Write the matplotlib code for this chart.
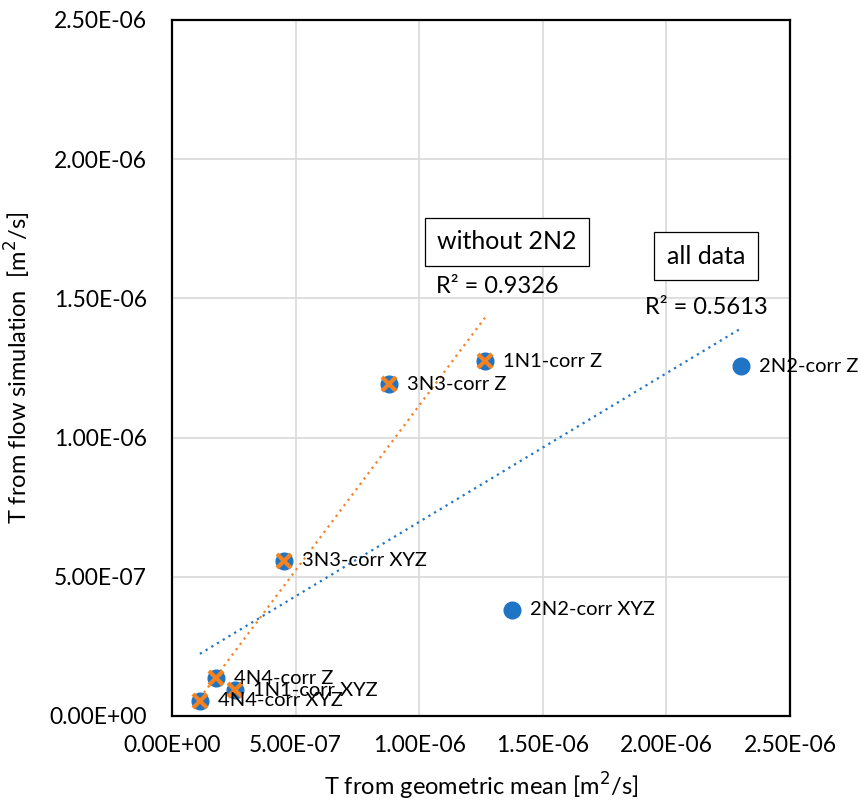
import numpy as np
import matplotlib
matplotlib.use("Agg")
import matplotlib.pyplot as plt

plt.rcParams['font.family'] = ['Lato', 'DejaVu Sans']

labels = ["4N4-corr XYZ", "4N4-corr Z", "1N1-corr XYZ", "3N3-corr XYZ",
          "3N3-corr Z", "1N1-corr Z", "2N2-corr Z", "2N2-corr XYZ"]
x_geo = [0.113e-6, 0.178e-6, 0.255e-6, 0.453e-6, 0.878e-6, 1.266e-6, 2.30e-6, 1.375e-6]
y_flow = [0.054e-6, 0.136e-6, 0.093e-6, 0.557e-6, 1.192e-6, 1.275e-6, 1.257e-6, 0.381e-6]
subset = [True, True, True, True, True, True, False, False]  # without 2N2

x_ticks = [0, 0.5e-6, 1.0e-6, 1.5e-6, 2.0e-6, 2.5e-6]
y_ticks = [0, 0.5e-6, 1.0e-6, 1.5e-6, 2.0e-6, 2.5e-6]
tick_labels = ["0.00E+00", "5.00E-07", "1.00E-06", "1.50E-06", "2.00E-06", "2.50E-06"]

blue = "#1f74c6"
orange = "#f5821f"

fig = plt.figure(figsize=(8.62, 8.06), dpi=100)
ax = fig.add_axes([0.1995, 0.1117, 0.7170, 0.8635])

xa = np.array(x_geo)
ya = np.array(y_flow)
m = np.array(subset)

# trendlines
p_all = np.polyfit(xa, ya, 1)
xs = np.array([xa.min(), xa.max()])
ax.plot(xs, np.polyval(p_all, xs), ls=(0, (1, 2)), color=blue, lw=1.6, zorder=2)
p_sub = np.polyfit(xa[m], ya[m], 1)
xs2 = np.array([xa[m].min(), xa[m].max()])
ax.plot(xs2, np.polyval(p_sub, xs2), ls=(0, (1, 2)), color=orange, lw=1.6, zorder=2)

ax.plot(xa, ya, 'o', color=blue, ms=12, mec=blue, zorder=3)
ax.plot(xa[m], ya[m], 'x', color=orange, ms=10, mew=3, zorder=4)

for lab, xv, yv in zip(labels, x_geo, y_flow):
    ax.annotate(lab, (xv, yv), xytext=(13, 0), textcoords='offset points',
                va='center', ha='left', fontsize=14.5, color='black',
                annotation_clip=False, zorder=5)

ax.set_xlim(0, 2.5e-6)
ax.set_ylim(0, 2.5e-6)
ax.set_xticks(x_ticks)
ax.set_yticks(y_ticks)
ax.set_xticklabels(tick_labels, fontsize=16.5)
ax.set_yticklabels(tick_labels, fontsize=16.5)
ax.tick_params(axis='x', length=0, pad=14)
ax.tick_params(axis='y', length=0, pad=18)
ax.grid(True, color="#d9d9d9", lw=1.2)
ax.set_axisbelow(True)
for s in ax.spines.values():
    s.set_linewidth(1.6)
    s.set_color('black')

ax.set_xlabel("T from geometric mean [m$^2$/s]", fontsize=17, labelpad=10)
ax.set_ylabel("T from flow simulation  [m$^2$/s]", fontsize=17, labelpad=12)

bbox = dict(boxstyle='square,pad=0.5', fc='white', ec='black', lw=0.9)
ax.text(1.355e-6, 1.703e-6, "without 2N2", fontsize=18, ha='center', va='center', bbox=bbox)
ax.text(2.16e-6, 1.652e-6, "all data", fontsize=18, ha='center', va='center', bbox=bbox)
ax.text(1.315e-6, 1.541e-6, "R² = 0.9326", fontsize=17, ha='center', va='center')
ax.text(2.16e-6, 1.469e-6, "R² = 0.5613", fontsize=17, ha='center', va='center')

fig.savefig("out.png", dpi=100, facecolor='white')
